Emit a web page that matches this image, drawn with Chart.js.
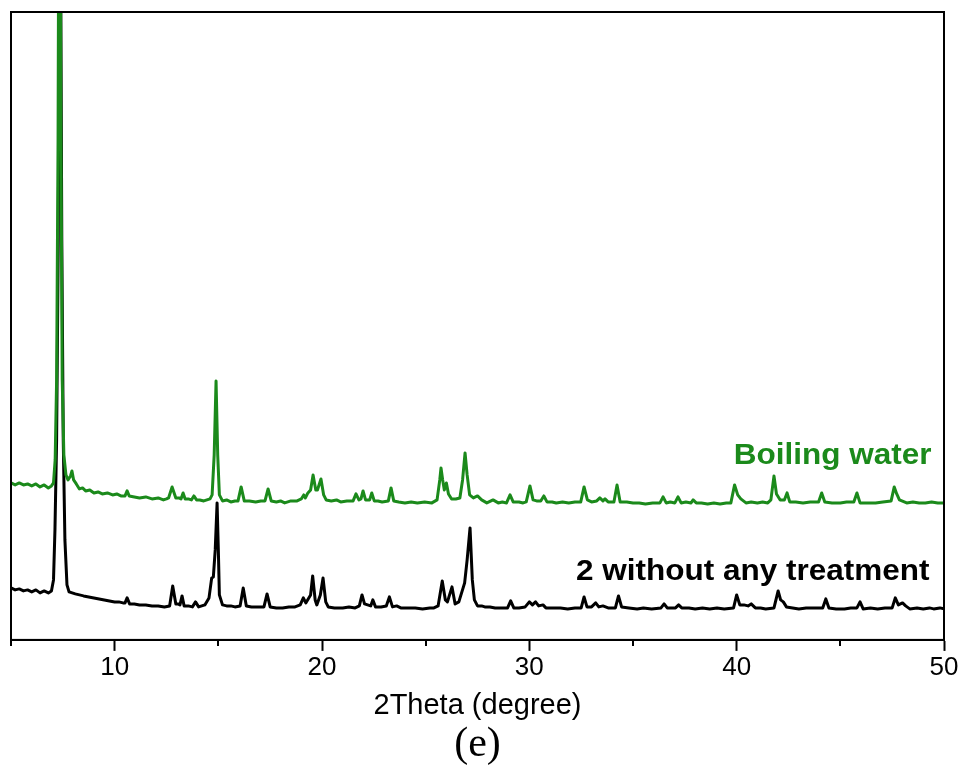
<!DOCTYPE html>
<html>
<head>
<meta charset="utf-8">
<script src="https://cdn.jsdelivr.net/npm/chart.js@4"></script>
<style>
  html, body { margin: 0; padding: 0; background: #fff; }
  #wrap { width: 962px; height: 773px; }
</style>
</head>
<body>
<div id="wrap"><canvas id="xrd"></canvas></div>
<script>
// PXRD patterns, 2θ (degree) vs. intensity (a.u., offset for display)
const boilingWater = [
  [5.00,157],[5.2,155],[5.4,157],[5.6,155],[5.8,156],[6.0,154],[6.2,156],[6.4,153],[6.6,155],[6.8,152],[6.95,154],[7.05,157],
  [7.13,180],[7.2,260],[7.27,500],[7.34,1000],[7.41,500],[7.47,260],[7.55,185],[7.65,165],
  [7.75,160],[7.87,164],[7.94,169],[8.02,160],[8.15,156],[8.3,151],[8.45,152],[8.6,149],[8.8,150],[9.0,147],
  [9.2,148],[9.4,146],[9.65,147],[9.9,145],[10.1,146],[10.3,144],[10.5,144],[10.6,149],[10.7,144],[10.95,143],[11.2,142],[11.5,143],[11.8,141],
  [12.1,142],[12.35,140],[12.5,141],[12.6,142],[12.77,153],[12.95,142],[13.1,142],[13.2,141],[13.3,147],[13.4,141],
  [13.55,141],[13.7,140],[13.82,144],[13.95,140],[14.1,140],[14.3,139],[14.45,140],[14.6,141],
  [14.7,145],[14.8,185],[14.89,259],[14.97,185],[15.05,145],[15.2,139],[15.4,140],[15.6,138],[15.8,139],
  [15.95,139],[16.1,153],[16.25,139],[16.5,139],[16.8,138],[17.05,139],[17.25,139],[17.4,151],[17.55,139],
  [17.8,138],[18.0,139],[18.2,137],[18.5,139],[18.8,139],[19.0,141],[19.12,145],[19.2,142],[19.32,147],
  [19.45,150],[19.57,165],[19.7,150],[19.78,150],[19.95,161],[20.08,145],[20.2,140],
  [20.45,139],[20.7,140],[20.9,138],[21.2,139],[21.5,139],[21.64,146],[21.78,140],[21.88,141],[21.98,149],[22.1,140],
  [22.3,140],[22.4,147],[22.52,139],[22.7,139],[22.9,138],[23.2,139],[23.33,152],[23.46,139],
  [23.7,138],[24.0,137],[24.3,138],[24.6,137],[24.95,138],[25.3,137],
  [25.55,140],[25.68,160],[25.74,172],[25.82,160],[25.9,150],[26.0,157],[26.1,146],[26.25,141],
  [26.45,141],[26.65,142],[26.78,160],[26.9,187],[27.0,165],[27.12,145],
  [27.3,142],[27.5,144],[27.7,140],[27.95,137],[28.25,140],[28.5,137],
  [28.7,138],[28.9,137],[29.07,145],[29.22,138],[29.5,138],[29.7,137],[29.85,138],[30.03,154],[30.18,140],
  [30.35,139],[30.55,139],[30.7,144],[30.85,138],[31.1,138],[31.3,137],[31.6,138],[31.9,137],[32.2,138],
  [32.48,138],[32.64,153],[32.8,140],[33.0,138],[33.25,139],[33.4,142],[33.55,139],[33.65,141],[33.8,138],
  [34.08,138],[34.23,155],[34.38,138],[34.7,138],[35.0,137],[35.3,137],[35.6,136],[35.95,137],
  [36.3,137],[36.45,143],[36.6,137],[36.8,138],[37.02,137],[37.17,143],[37.32,137],
  [37.55,138],[37.8,137],[37.9,140],[38.05,137],[38.3,137],[38.6,136],[38.9,137],[39.2,136],[39.5,137],
  [39.72,137],[39.9,155],[40.05,145],[40.2,141],[40.45,137],[40.7,138],[41.0,137],[41.25,138],[41.5,137],
  [41.65,140],[41.8,164],[41.92,146],[42.1,140],[42.3,140],[42.43,147],[42.56,138],
  [42.85,138],[43.2,137],[43.55,138],[43.95,138],[44.1,147],[44.25,138],[44.6,137],[45.0,137],[45.3,138],
  [45.65,138],[45.8,147],[45.95,137],[46.3,137],[46.7,137],[47.05,138],
  [47.45,139],[47.6,153],[47.72,146],[47.85,140],[48.2,137],[48.5,138],[48.8,137],[49.1,137],[49.4,138],[49.7,137],[50.0,137]
];

const untreated = [
  [5.0,52],[5.2,50],[5.4,51],[5.6,49],[5.8,50],[6.0,48],[6.2,50],[6.4,47],[6.6,49],[6.8,47],[6.95,49],[7.05,60],[7.12,110],[7.2,200],
  [7.28,400],[7.36,850],[7.45,400],[7.52,200],[7.6,100],[7.7,55],[7.8,48],[7.95,47],[8.1,46],[8.3,45],[8.5,44],[8.75,43],
  [9.0,42],[9.25,41],[9.5,40],[9.75,39],[10.0,38],[10.2,38],[10.4,37],[10.5,37],[10.6,42],[10.72,36],[10.95,36],[11.2,35],[11.5,35],[11.8,34],
  [12.1,34],[12.4,33],[12.65,34],[12.8,54],[12.95,36],[13.05,36],[13.15,35],[13.25,44],[13.35,34],
  [13.55,34],[13.75,33],[13.9,38],[14.05,33],[14.2,34],[14.35,35],[14.55,42],[14.68,62],[14.76,63],
  [14.85,90],[14.94,137],[15.0,90],[15.05,45],[15.2,35],[15.4,34],[15.6,34],[15.8,33],
  [16.05,34],[16.2,52],[16.35,34],[16.6,33],[16.9,33],[17.2,33],[17.35,46],[17.5,33],[17.8,32],[18.1,32],[18.4,33],[18.7,33],
  [18.95,35],[19.1,42],[19.22,37],[19.45,45],[19.55,64],[19.67,40],[19.75,35],
  [19.92,45],[20.05,62],[20.18,38],[20.3,33],[20.6,32],[21.0,32],[21.3,33],[21.6,32],
  [21.8,34],[21.93,45],[22.05,36],[22.2,35],[22.35,34],[22.45,40],[22.58,33],[22.85,33],
  [23.1,34],[23.25,43],[23.4,33],[23.6,34],[23.8,32],[24.1,32],[24.5,32],[24.85,31],[25.2,32],[25.4,32],
  [25.6,34],[25.8,59],[25.95,40],[26.05,38],[26.27,53],[26.42,36],
  [26.6,38],[26.88,57],[27.0,80],[27.14,112],[27.25,60],[27.35,40],[27.5,34],
  [27.7,34],[27.85,33],[28.1,33],[28.35,32],[28.6,32],[28.95,32],[29.1,39],[29.25,32],
  [29.5,32],[29.8,33],[30.0,38],[30.15,35],[30.3,38],[30.45,34],[30.66,35],[30.8,32],
  [31.1,32],[31.5,32],[31.85,31],[32.2,32],[32.5,32],[32.64,43],[32.78,33],
  [33.0,33],[33.2,37],[33.35,33],[33.55,34],[33.8,32],
  [34.15,32],[34.3,44],[34.45,33],[34.8,32],[35.2,31],[35.5,32],[35.9,31],
  [36.35,32],[36.5,36],[36.65,32],[36.85,32],[37.05,32],[37.2,35],[37.35,32],
  [37.7,32],[38.0,31],[38.35,32],[38.7,31],[39.05,32],[39.4,31],[39.85,32],[40.0,45],[40.15,35],
  [40.35,35],[40.55,34],[40.7,36],[40.9,32],[41.15,32],[41.4,31],[41.8,32],
  [42.0,49],[42.12,40],[42.25,38],[42.4,33],[42.7,32],[43.0,31],[43.35,32],[43.7,32],
  [44.15,32],[44.3,41],[44.45,32],[44.8,31],[45.2,31],[45.5,32],[45.8,32],[45.95,38],[46.1,31],[46.45,32],[46.8,31],[47.15,32],
  [47.5,32],[47.65,42],[47.8,35],[48.0,37],[48.15,34],[48.35,31],[48.7,32],[49.0,31],[49.3,32],[49.5,31],[49.8,32],[50.0,31]
];

const majorTicks = [10, 20, 30, 40, 50];
const minorTicks = [5, 15, 25, 35, 45];

const GREEN = '#1b8a1b';

const traceLabels = [
  { text: 'Boiling water', x: 49.4, y: 176, color: GREEN },
  { text: '2 without any treatment', x: 49.3, y: 60, color: '#000000' }
];

// frame around the plot area plus the short minor ticks on the 2θ axis
const framePlugin = {
  id: 'frame',
  afterDraw(chart) {
    const { ctx, chartArea: a, scales } = chart;
    ctx.save();
    ctx.strokeStyle = '#000';
    ctx.lineWidth = 2;
    ctx.strokeRect(a.left, a.top, a.right - a.left, a.bottom - a.top);
    ctx.beginPath();
    minorTicks.forEach(v => {
      const px = Math.round(scales.x.getPixelForValue(v));
      ctx.moveTo(px, a.bottom);
      ctx.lineTo(px, a.bottom + 6);
    });
    ctx.stroke();
    ctx.restore();
  }
};

// curve names written next to each trace
const traceLabelPlugin = {
  id: 'traceLabels',
  afterDatasetsDraw(chart) {
    const { ctx, scales } = chart;
    ctx.save();
    ctx.font = 'bold 30px "Liberation Sans", Arial, sans-serif';
    ctx.textAlign = 'right';
    ctx.textBaseline = 'alphabetic';
    traceLabels.forEach(l => {
      const px = scales.x.getPixelForValue(l.x);
      const py = scales.y.getPixelForValue(l.y);
      ctx.fillStyle = l.color;
      ctx.save();
      ctx.translate(px, py);
      ctx.scale(1.05, 1);
      ctx.fillText(l.text, 0, 0);
      ctx.restore();
    });
    ctx.restore();
  }
};

const toPoints = arr => arr.map(([x, y]) => ({ x, y }));

new Chart(document.getElementById('xrd'), {
  type: 'line',
  data: {
    datasets: [
      { label: 'Boiling water', data: toPoints(boilingWater), borderColor: GREEN,
        borderWidth: 3, pointRadius: 0, tension: 0, borderJoinStyle: 'round', order: 0 },
      { label: '2 without any treatment', data: toPoints(untreated), borderColor: '#000',
        borderWidth: 3, pointRadius: 0, tension: 0, borderJoinStyle: 'round', order: 1 }
    ]
  },
  options: {
    responsive: true,
    maintainAspectRatio: false,
    animation: false,
    layout: { padding: { left: 11, right: 18, top: 12, bottom: 6 } },
    plugins: {
      legend: { display: false },
      tooltip: { enabled: false },
      subtitle: {
        display: true,
        position: 'bottom',
        text: '(e)',
        color: '#000',
        font: { family: '"Liberation Serif", "Times New Roman", serif', size: 42, weight: 'normal', lineHeight: 1.05 },
        padding: { top: 0, bottom: 0 }
      }
    },
    scales: {
      x: {
        type: 'linear',
        min: 5,
        max: 50,
        afterBuildTicks: scale => {
          scale.ticks = majorTicks.map(v => ({ value: v }));
        },
        ticks: {
          color: '#000',
          font: { family: '"Liberation Sans", Arial, sans-serif', size: 26 },
          padding: 1,
          maxRotation: 0,
          autoSkip: false
        },
        grid: {
          drawOnChartArea: false,
          drawTicks: true,
          tickLength: 11,
          tickWidth: 2,
          tickColor: '#000'
        },
        border: { display: true, color: '#000', width: 2 },
        title: {
          display: true,
          text: '2Theta (degree)',
          color: '#000',
          font: { family: '"Liberation Sans", Arial, sans-serif', size: 29 },
          padding: { top: 4, bottom: 0 }
        }
      },
      y: {
        display: false,
        min: 0,
        max: 628
      }
    }
  },
  plugins: [framePlugin, traceLabelPlugin]
});
</script>
</body>
</html>
